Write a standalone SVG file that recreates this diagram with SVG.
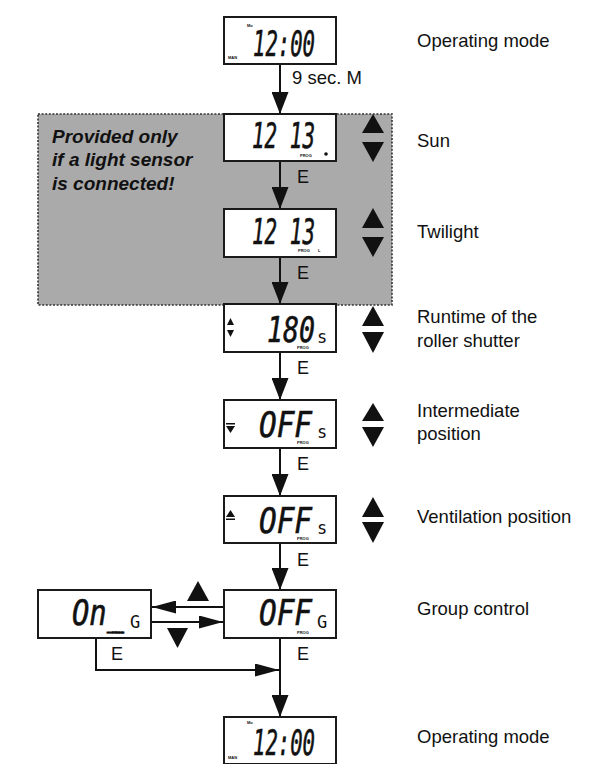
<svg xmlns="http://www.w3.org/2000/svg" width="592" height="764" viewBox="0 0 592 764">
<style>
.box{fill:#fff;stroke:#1a1a1a;stroke-width:2}
.lbl{font-family:"Liberation Sans",Arial,sans-serif;font-size:18.5px;fill:#111}
.e{font-family:"Liberation Sans",Arial,sans-serif;font-size:18px;fill:#111}
.note{font-family:"Liberation Sans",Arial,sans-serif;font-size:19px;font-weight:bold;font-style:italic;fill:#111}
.seg{font-family:"DejaVu Sans Mono","Liberation Mono",monospace;font-style:italic;font-size:36px;fill:#111;stroke:#111;stroke-width:0.6}
.sub{font-family:"DejaVu Sans Mono","Liberation Mono",monospace;font-size:17px;fill:#111}
.tiny{font-family:"Liberation Sans",Arial,sans-serif;font-size:4px;font-weight:bold;fill:#111}
.tri{fill:#111}
.con{fill:none;stroke:#111;stroke-width:2}
</style>
<defs>
<marker id="ah" viewBox="0 0 22 17" refX="22" refY="8.5" markerWidth="22" markerHeight="17" markerUnits="userSpaceOnUse" orient="auto"><path d="M0,0 L22,8.5 L0,17 z" fill="#111"/></marker>
<marker id="ahh" viewBox="0 0 24 13" refX="24" refY="6.5" markerWidth="24" markerHeight="13" markerUnits="userSpaceOnUse" orient="auto"><path d="M0,0 L24,6.5 L0,13 z" fill="#111"/></marker>
</defs>
<rect width="592" height="764" fill="#fff"/>
<g id="sensor-area">
<rect x="38" y="114" width="354" height="191" fill="#aaaaaa" stroke="#333" stroke-width="1.6" stroke-dasharray="2 1.6"/>
<text class="note" x="52" y="143">Provided only</text>
<text class="note" x="52" y="166">if a light sensor</text>
<text class="note" x="52" y="190">is connected!</text>
</g>
<g id="connectors">
<line class="con" x1="280" y1="64" x2="280" y2="114" marker-end="url(#ah)"/>
<line class="con" x1="280" y1="161" x2="280" y2="209" marker-end="url(#ah)"/>
<line class="con" x1="280" y1="257" x2="280" y2="304" marker-end="url(#ah)"/>
<line class="con" x1="280" y1="352" x2="280" y2="400" marker-end="url(#ah)"/>
<line class="con" x1="280" y1="448" x2="280" y2="496" marker-end="url(#ah)"/>
<line class="con" x1="280" y1="543" x2="280" y2="590" marker-end="url(#ah)"/>
<line class="con" x1="280" y1="638" x2="280" y2="717" marker-end="url(#ah)"/>
<line class="con" x1="224" y1="607" x2="152" y2="607" marker-end="url(#ahh)"/>
<line class="con" x1="151" y1="622" x2="223" y2="622" marker-end="url(#ahh)"/>
<polyline class="con" points="96,638 96,670 279,670" marker-end="url(#ahh)"/>
<text class="lbl" x="292" y="84">9 sec. M</text>
<text class="e" x="297" y="183">E</text>
<text class="e" x="297" y="279">E</text>
<text class="e" x="297" y="374">E</text>
<text class="e" x="297" y="470">E</text>
<text class="e" x="297" y="566">E</text>
<text class="e" x="297" y="660">E</text>
<text class="e" x="111" y="660">E</text>
<polygon class="tri" points="198,581 187,601 209,601"/>
<polygon class="tri" points="167,628 188,628 177.5,648"/>
</g>
<g id="op-mode-top">
<rect class="box" x="224" y="17" width="112" height="47"/>
<text class="seg" x="253" y="56" textLength="62" lengthAdjust="spacingAndGlyphs">12:00</text>
<text class="tiny" x="247" y="27">Mo</text>
<text class="tiny" x="228" y="59">MAN</text>
<text class="lbl" x="417" y="47">Operating mode</text>
</g>
<g id="sun">
<rect class="box" x="224" y="114" width="112" height="47"/>
<text class="seg" x="252" y="148" textLength="63" lengthAdjust="spacingAndGlyphs">12 13</text>
<circle cx="326" cy="154" r="1.8" fill="#111"/>
<text class="tiny" x="300" y="157">PROG</text>
<polygon class="tri" points="373,114 362,133 384,133"/>
<polygon class="tri" points="362,142 384,142 373,162"/>
<text class="lbl" x="417" y="147">Sun</text>
</g>
<g id="twilight">
<rect class="box" x="224" y="209" width="112" height="48"/>
<text class="seg" x="252" y="244" textLength="63" lengthAdjust="spacingAndGlyphs">12 13</text>
<text class="tiny" x="298" y="252">PROG</text>
<text class="tiny" x="318" y="252" font-size="5">L</text>
<polygon class="tri" points="373,208 362,228 384,228"/>
<polygon class="tri" points="362,237 384,237 373,257"/>
<text class="lbl" x="417" y="238">Twilight</text>
</g>
<g id="runtime">
<rect class="box" x="224" y="304" width="112" height="48"/>
<polygon class="tri" points="230.5,318 227,325 234,325"/>
<polygon class="tri" points="227,330 234,330 230.5,337"/>
<text class="seg" x="267" y="342" textLength="48" lengthAdjust="spacingAndGlyphs">180</text>
<text class="sub" x="317" y="343">s</text>
<text class="tiny" x="297" y="349">PROG</text>
<polygon class="tri" points="373,306 362,326 384,326"/>
<polygon class="tri" points="362,332 384,332 373,353"/>
<text class="lbl" x="417" y="323">Runtime of the</text>
<text class="lbl" x="417" y="347">roller shutter</text>
</g>
<g id="intermediate">
<rect class="box" x="224" y="400" width="112" height="48"/>
<rect x="226" y="423" width="9" height="1.5" fill="#111"/>
<polygon class="tri" points="226,426 235,426 230.5,433"/>
<text class="seg" x="259" y="437" textLength="53" lengthAdjust="spacingAndGlyphs">OFF</text>
<text class="sub" x="317" y="438">s</text>
<text class="tiny" x="297" y="444">PROG</text>
<polygon class="tri" points="373,403 362,421 384,421"/>
<polygon class="tri" points="362,427 384,427 373,447"/>
<text class="lbl" x="417" y="417">Intermediate</text>
<text class="lbl" x="417" y="440">position</text>
</g>
<g id="ventilation">
<rect class="box" x="224" y="496" width="112" height="47"/>
<polygon class="tri" points="230.5,510 226,517 235,517"/>
<rect x="226" y="518.5" width="9" height="1.5" fill="#111"/>
<text class="seg" x="259" y="533" textLength="53" lengthAdjust="spacingAndGlyphs">OFF</text>
<text class="sub" x="317" y="534">s</text>
<text class="tiny" x="297" y="540">PROG</text>
<polygon class="tri" points="373,497 362,517 384,517"/>
<polygon class="tri" points="362,522 384,522 373,543"/>
<text class="lbl" x="417" y="523">Ventilation position</text>
</g>
<g id="group-off">
<rect class="box" x="224" y="590" width="112" height="48"/>
<text class="seg" x="259" y="625" textLength="53" lengthAdjust="spacingAndGlyphs">OFF</text>
<text class="sub" x="317" y="628">G</text>
<text class="tiny" x="297" y="634">PROG</text>
<text class="lbl" x="417" y="615">Group control</text>
</g>
<g id="group-on">
<rect class="box" x="38" y="590" width="113" height="48"/>
<text class="seg" x="72" y="625" textLength="52" lengthAdjust="spacingAndGlyphs">On_</text>
<text class="sub" x="130" y="628">G</text>
<text class="tiny" x="112" y="634">PROG</text>
</g>
<g id="op-mode-bottom">
<rect class="box" x="224" y="717" width="112" height="47"/>
<text class="seg" x="253" y="755" textLength="62" lengthAdjust="spacingAndGlyphs">12:00</text>
<text class="tiny" x="247" y="724">Mo</text>
<text class="tiny" x="228" y="759">MAN</text>
<text class="lbl" x="417" y="743">Operating mode</text>
</g>
</svg>
